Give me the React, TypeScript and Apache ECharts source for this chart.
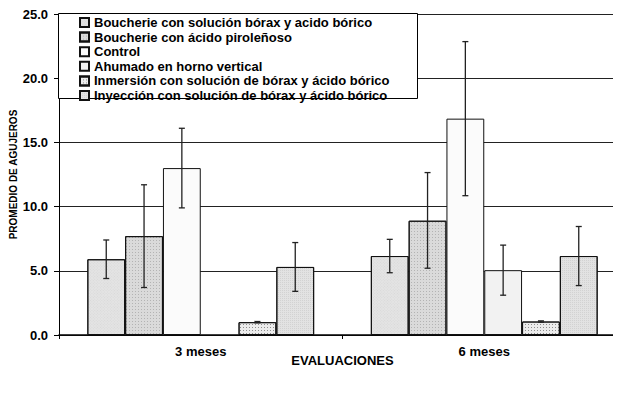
import React, { useEffect, useRef } from "react";
import * as echarts from "echarts";

const categories = ["3 meses", "6 meses"];
const seriesNames = [
  "Boucherie con solución bórax y acido bórico",
  "Boucherie con ácido piroleñoso",
  "Control",
  "Ahumado en horno vertical",
  "Inmersión con solución de bórax y ácido bórico",
  "Inyección con solución de bórax y ácido bórico",
];
const meanBoucherieBorax = [5.9, 6.15];
const meanBoucheriePiro = [7.7, 8.9];
const meanControl = [13.0, 16.85];
const meanAhumado = [null, 5.05];
const meanInmersion = [1.0, 1.05];
const meanInyeccion = [5.3, 6.15];
const lowBoucherieBorax = [4.4, 4.85];
const highBoucherieBorax = [7.4, 7.45];
const lowBoucheriePiro = [3.7, 5.2];
const highBoucheriePiro = [11.7, 12.65];
const lowControl = [9.9, 10.85];
const highControl = [16.1, 22.85];
const lowAhumado = [null, 3.1];
const highAhumado = [null, 7.0];
const lowInmersion = [0.95, 1.0];
const highInmersion = [1.05, 1.1];
const lowInyeccion = [3.4, 3.85];
const highInyeccion = [7.2, 8.45];
const yTicks = [0, 5, 10, 15, 20, 25];

const means = [meanBoucherieBorax, meanBoucheriePiro, meanControl, meanAhumado, meanInmersion, meanInyeccion];
const lows = [lowBoucherieBorax, lowBoucheriePiro, lowControl, lowAhumado, lowInmersion, lowInyeccion];
const highs = [highBoucherieBorax, highBoucheriePiro, highControl, highAhumado, highInmersion, highInyeccion];

const fills = ["#e4e4e4", "#dadada", "#fbfbfb", "#f2f2f2", "#ececec", "#e2e2e2"];
const decals: any[] = [
  { symbol: "rect", symbolSize: 1, dashArrayX: [1, 1], dashArrayY: [1, 1], rotation: Math.PI / 4, color: "rgba(0,0,0,0.05)" },
  { symbol: "rect", symbolSize: 1, dashArrayX: [1, 2], dashArrayY: [1, 2], color: "rgba(0,0,0,0.18)" },
  null,
  null,
  { symbol: "rect", symbolSize: 1, dashArrayX: [1, 2], dashArrayY: [1, 2], color: "rgba(0,0,0,0.4)" },
  { symbol: "rect", symbolSize: 1, dashArrayX: [1, 1], dashArrayY: [1, 1], color: "rgba(0,0,0,0.07)" },
];

const FONT = "'Liberation Sans', Arial, sans-serif";

export default function App() {
  const ref = useRef<HTMLDivElement>(null);
  useEffect(() => {
    if (!ref.current) return;
    const chart = echarts.init(ref.current, null, { renderer: "svg" });
    const nSeries = seriesNames.length;
    const barSeries = seriesNames.map((name, i) => ({
      name,
      type: "bar",
      data: means[i],
      barGap: "0%",
      barCategoryGap: "20%",
      itemStyle: {
        color: fills[i],
        borderColor: "#111",
        borderWidth: 1,
        decal: decals[i] || undefined,
      },
      z: 2,
    }));
    const errSeries = seriesNames.map((name, i) => ({
      name: name + " err",
      type: "custom",
      z: 5,
      data: categories.map((_, c) => [c, lows[i][c], highs[i][c]]),
      renderItem: (params: any, api: any) => {
        const lo = api.value(1);
        const hi = api.value(2);
        if (lo == null || hi == null || isNaN(lo) || isNaN(hi)) return null;
        const band = api.size([1, 0])[0];
        const barW = (band * 0.8) / nSeries;
        const offset = (i - (nSeries - 1) / 2) * barW;
        const pLo = api.coord([api.value(0), lo]);
        const pHi = api.coord([api.value(0), hi]);
        const x = pLo[0] + offset;
        const cap = 3;
        const style = { stroke: "#222", lineWidth: 1.3 };
        return {
          type: "group",
          children: [
            { type: "line", shape: { x1: x, y1: pLo[1], x2: x, y2: pHi[1] }, style },
            { type: "line", shape: { x1: x - cap, y1: pLo[1], x2: x + cap, y2: pLo[1] }, style },
            { type: "line", shape: { x1: x - cap, y1: pHi[1], x2: x + cap, y2: pHi[1] }, style },
          ],
        };
      },
    }));
    chart.setOption({
      animation: false,
      backgroundColor: "#fff",
      grid: { left: 59, top: 14, width: 567, bottom: 72, outerBoundsMode: "none", containLabel: false },
      legend: {
        data: seriesNames,
        orient: "vertical",
        left: 79,
        top: 16,
        padding: 0,
        itemWidth: 9,
        itemHeight: 9,
        itemGap: 1.6,
        icon: "rect",
        selectedMode: false,
        z: 10,
        textStyle: { fontFamily: FONT, fontWeight: "bold", fontSize: 13, color: "#000", lineHeight: 13 },
      },
      graphic: [
        {
          type: "rect",
          z: 8,
          shape: { x: 58.5, y: 13.5, width: 359, height: 85 },
          style: { fill: "#fff", stroke: "#000", lineWidth: 1 },
        },
      ],
      xAxis: {
        type: "category",
        data: categories,
        name: "EVALUACIONES",
        nameLocation: "middle",
        nameGap: 18.5,
        nameMoveOverlap: false,
        nameTextStyle: { fontFamily: FONT, fontWeight: "bold", fontSize: 13, color: "#000" },
        axisLine: { lineStyle: { color: "#000", width: 1.5 } },
        axisTick: { show: true, length: 4, lineStyle: { color: "#000" } },
        axisLabel: { fontFamily: FONT, fontWeight: "bold", fontSize: 13, color: "#000", margin: 10 },
      },
      yAxis: {
        type: "value",
        min: yTicks[0],
        max: yTicks[yTicks.length - 1],
        interval: 5,
        name: "PROMEDIO DE AGUJEROS",
        nameLocation: "middle",
        nameGap: 41,
        nameMoveOverlap: false,
        nameTextStyle: { fontFamily: FONT, fontWeight: "bold", fontSize: 10, color: "#000" },
        axisLine: { show: true, lineStyle: { color: "#000", width: 1 } },
        axisTick: { show: true, length: 5, lineStyle: { color: "#000" } },
        axisLabel: {
          fontFamily: FONT,
          fontWeight: "bold",
          fontSize: 13,
          color: "#000",
          margin: 11,
          formatter: (v: number) => v.toFixed(1),
        },
        splitLine: { show: true, lineStyle: { color: "#222", width: 1 } },
      },
      series: [...barSeries, ...errSeries],
    });
    return () => chart.dispose();
  }, []);
  return <div ref={ref} style={{ width: 621, height: 407, marginLeft: -8, marginTop: -8 }} />;
}
